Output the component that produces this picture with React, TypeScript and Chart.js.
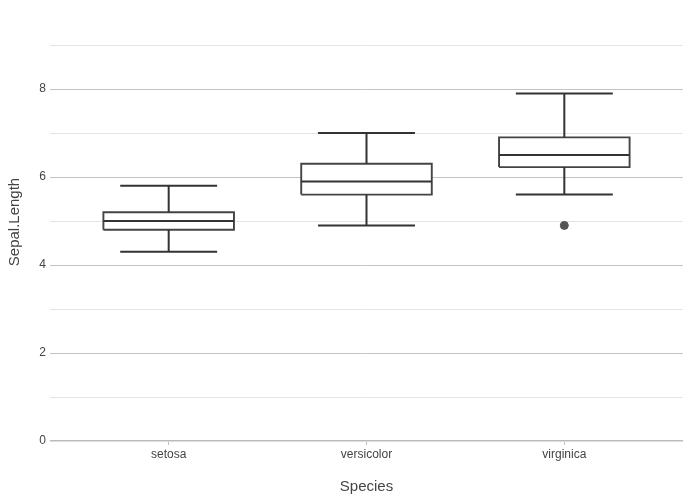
import React, { useEffect, useRef } from "react";
import { Chart, registerables } from "chart.js";

Chart.register(...registerables);

const species = ["setosa", "versicolor", "virginica"];
const lowerWhisker = [4.3, 4.9, 5.6];
const q1 = [4.8, 5.6, 6.225];
const median = [5.0, 5.9, 6.5];
const q3 = [5.2, 6.3, 6.9];
const upperWhisker = [5.8, 7.0, 7.9];
const outliers = [{ group: 3, value: 4.9 }];
const yTicks = [0, 1, 2, 3, 4, 5, 6, 7, 8, 9];

const BOX_HALF = 0.33;
const CAP_HALF = 0.245;
const LINE = "#333333";
const FONT = "'Liberation Sans', Arial, sans-serif";

const yTitlePlugin = {
  id: "yTitle",
  afterDraw(chart: any) {
    const ctx = chart.ctx;
    ctx.save();
    ctx.translate(15, 222);
    ctx.rotate(-Math.PI / 2);
    ctx.font = `15px ${FONT}`;
    ctx.fillStyle = "#444444";
    ctx.textAlign = "center";
    ctx.textBaseline = "middle";
    ctx.fillText("Sepal.Length", 0, 0);
    ctx.restore();
  },
};

export default function App() {
  const ref = useRef<HTMLCanvasElement>(null);
  useEffect(() => {
    document.body.style.margin = "0";
    const datasets: any[] = [];
    species.forEach((_, i) => {
      const x = i + 1;
      const seg = (a: any, b: any, w = 2) => ({
        data: [a, b],
        showLine: true,
        borderColor: LINE,
        borderWidth: w,
        pointRadius: 0,
        order: 0,
      });
      datasets.push({
        data: [
          { x: x - BOX_HALF, y: q1[i] },
          { x: x + BOX_HALF, y: q1[i] },
          { x: x + BOX_HALF, y: q3[i] },
          { x: x - BOX_HALF, y: q3[i] },
          { x: x - BOX_HALF, y: q1[i] },
        ],
        showLine: true,
        fill: "shape",
        backgroundColor: "#ffffff",
        borderColor: "#444444",
        borderWidth: 1.9,
        pointRadius: 0,
        tension: 0,
        order: 5,
      });
      datasets.push(seg({ x: x - BOX_HALF, y: median[i] }, { x: x + BOX_HALF, y: median[i] }));
      datasets.push(seg({ x, y: q3[i] }, { x, y: upperWhisker[i] }));
      datasets.push(seg({ x, y: q1[i] }, { x, y: lowerWhisker[i] }));
      datasets.push(seg({ x: x - CAP_HALF, y: upperWhisker[i] }, { x: x + CAP_HALF, y: upperWhisker[i] }));
      datasets.push(seg({ x: x - CAP_HALF, y: lowerWhisker[i] }, { x: x + CAP_HALF, y: lowerWhisker[i] }));
    });
    datasets.push({
      data: outliers.map((o) => ({ x: o.group, y: o.value })),
      showLine: false,
      pointRadius: 4,
      pointBackgroundColor: "#555555",
      pointBorderColor: "#555555",
      pointBorderWidth: 1,
      order: 0,
    });

    const chart = new Chart(ref.current!, {
      type: "scatter",
      data: { datasets },
      plugins: [yTitlePlugin],
      options: {
        animation: false,
        responsive: false,
        events: [],
        layout: { padding: { top: 40.6, right: 17, left: 0, bottom: 0 } },
        plugins: { legend: { display: false }, tooltip: { enabled: false } },
        scales: {
          x: {
            type: "linear",
            min: 0.4,
            max: 3.6,
            afterBuildTicks: (s: any) => {
              s.ticks = species.map((_, i) => ({ value: i + 1 }));
            },
            afterFit: (s: any) => {
              s.height = 58.1;
            },
            border: { display: false },
            grid: {
              drawOnChartArea: false,
              drawTicks: true,
              tickLength: 3,
              tickColor: "#bdbdbd",
              lineWidth: 1,
            },
            ticks: {
              autoSkip: false,
              maxRotation: 0,
              padding: 3,
              color: "#444444",
              font: { family: FONT, size: 12 },
              callback: (v: any) => species[Math.round(Number(v)) - 1] ?? "",
            },
            title: {
              display: true,
              text: "Species",
              color: "#444444",
              font: { family: FONT, size: 15 },
              padding: { top: 0, bottom: 4 },
            },
          },
          y: {
            min: -0.02,
            max: 9.1,
            afterBuildTicks: (s: any) => {
              s.ticks = yTicks.map((v) => ({ value: v }));
            },
            afterFit: (s: any) => {
              s.width = 50;
            },
            border: { display: false },
            grid: {
              drawTicks: false,
              color: (c: any) =>
                c.tick && c.tick.value === 0
                  ? "#bbbbbb"
                  : c.tick && c.tick.value % 2 === 0
                  ? "#c4c4c4"
                  : "#e4e4e4",
              lineWidth: (c: any) => (c.tick && c.tick.value === 0 ? 1.6 : 1),
            },
            ticks: {
              padding: 4,
              color: "#444444",
              font: { family: FONT, size: 12 },
              callback: (v: any) => (Number(v) % 2 === 0 ? String(v) : ""),
            },
            title: { display: false },
          },
        },
      },
    });
    return () => chart.destroy();
  }, []);
  return (
    <div style={{ width: 700, height: 500, background: "#fff" }}>
      <canvas ref={ref} width={700} height={500} />
    </div>
  );
}
